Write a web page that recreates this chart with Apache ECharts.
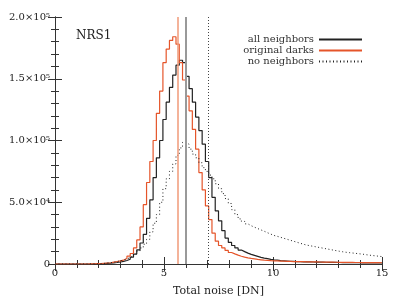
<!DOCTYPE html>
<html>
<head>
<meta charset="utf-8">
<script src="https://cdn.jsdelivr.net/npm/echarts@6/dist/echarts.min.js"></script>
<style>html,body{margin:0;padding:0;background:#fff}#c{width:399px;height:299px}</style>
</head>
<body>
<div id="c"></div>
<script>
// Histogram bins (noise in DN), counts in thousands of pixels
const binStart = 0;
const binWidth = 0.15;
const UNIT = 1000;

const allNeighbors = [
  0,0,0,0,0,0,0,0,0,0,0,0,0.1,0.2,0.3,0.45,
  0.6,0.9,1.2,1.6,2.1,2.8,3.8,5.5,8,11.5,17,24,37,52,70,86,100,117,131,143,153,161,165,163,
  152,142,131,119,108,97,83,70,54,43,35,27,21,17.5,15,13,11.3,10,8.8,7.8,7.0,6.2,5.4,4.8,4.3,3.8,
  3.4,3.1,2.8,2.6,2.4,2.2,2.1,2.0,1.9,1.8,
  1.7,1.65,1.6,1.55,1.5,1.45,1.4,1.35,1.3,1.25,
  1.2,1.17,1.14,1.1,1.07,1.04,1.0,0.97,0.94,0.91,0.88,0.85,0.82,0.8
];
const originalDarks = [
  0,0,0,0,0,0,0,0,0,0,0.1,0.2,0.3,0.4,0.6,0.8,
  1.0,1.5,2.0,2.5,3.2,4.5,6.3,8.5,13,19.5,30,48,66,83,100,122,140,163,174,181,184,178,163,149,
  136,124,109,93,74,60,47,36,25,18.5,15,13,11,9.3,8.2,7.2,6.3,5.6,5.0,4.5,4.1,3.7,3.4,3.1,2.9,2.7,2.6,
  2.5,2.4,2.3,2.2,2.1,2.0,1.95,1.9,1.85,1.8,1.75,1.7,1.65,1.6,1.55,1.5,1.47,1.44,1.41,1.38,
  1.35,1.32,1.29,1.26,1.23,1.2,1.17,1.14,1.11,1.08,1.06,1.04,1.02
];
const noNeighbors = [
  0,0,0,0,0,0,0,0,0,0,0.1,0.15,0.25,0.35,
  0.5,0.8,1.1,1.5,2.0,2.6,3.3,4.1,5.2,6.6,
  8.3,10.5,13,16,20,26,33,40,50,61,
  69,75,81,88,94,98.5,97,93,89,86,
  82,78,75,72,69,65,61,57,53,49,
  44,40,36.5,34.5,32.5,31,29.8,28.7,27.6,26.5,
  25.3,24.2,23.1,22.4,21.6,20.8,20.0,19.2,18.4,17.6,
  16.8,16.0,15.3,14.8,14.3,13.8,13.3,12.8,12.3,11.8,
  11.3,10.8,10.3,9.9,9.5,9.2,8.9,8.6,8.3,8.0,
  7.6,7.2,6.9,6.6,6.3,6.0
];
// Median markers (DN)
const medianAll = 5.98;
const medianOriginal = 5.61;
const medianNoNeighbors = 7.03;

const seriesNames = ['all neighbors', 'original darks', 'no neighbors'];
const xTicks = [0, 15, 5];          // min, max, interval
const yTicks = [0, 200000, 50000];  // min, max, interval

function toSteps(arr) {
  const pts = arr.map((v, i) => [binStart + i * binWidth, v * UNIT]);
  pts.push([binStart + arr.length * binWidth, arr[arr.length - 1] * UNIT]);
  return pts;
}

const FONT = 'DejaVu Serif';
const AX = '#333';
const supDigits = {'0':'⁰','1':'¹','2':'²','3':'³','4':'⁴','5':'⁵','6':'⁶','7':'⁷','8':'⁸','9':'⁹'};
function sciLabel(v) {
  if (v === 0) return '0';
  const e = Math.floor(Math.log10(v));
  const m = (v / Math.pow(10, e)).toFixed(1);
  return m + '×10' + String(e).split('').map(c => supDigits[c]).join('');
}

const xBase = {
  type: 'value', min: xTicks[0], max: xTicks[1], interval: xTicks[2],
  axisLine: {show: true, lineStyle: {color: AX, width: 1}},
  axisTick: {show: true, inside: true, length: 7, lineStyle: {color: AX}},
  minorTick: {show: true, splitNumber: 5, length: 4, lineStyle: {color: AX}},
  splitLine: {show: false}, minorSplitLine: {show: false}
};
const yBase = {
  type: 'value', min: yTicks[0], max: yTicks[1], interval: yTicks[2],
  axisLine: {show: true, lineStyle: {color: AX, width: 1}},
  axisTick: {show: true, inside: true, length: 7, lineStyle: {color: AX}},
  minorTick: {show: true, splitNumber: 5, length: 4, lineStyle: {color: AX}},
  splitLine: {show: false}, minorSplitLine: {show: false}
};

const chart = echarts.init(document.getElementById('c'), null, {renderer: 'canvas'});
chart.setOption({
  animation: false,
  backgroundColor: '#fff',
  title: {
    text: 'NRS1', left: 71, top: 25,
    textStyle: {fontFamily: FONT, fontSize: 12, fontWeight: 'normal', color: '#222'}
  },
  legend: {
    orient: 'vertical', align: 'right', right: 31, top: 29,
    itemWidth: 43, itemHeight: 11, itemGap: 0,
    itemStyle: {opacity: 0},
    data: seriesNames,
    textStyle: {fontFamily: FONT, fontSize: 10, color: '#333', lineHeight: 11}
  },
  grid: {left: 55, right: 17, top: 17, bottom: 35, containLabel: false, outerBoundsMode: 'none'},
  xAxis: [
    Object.assign({}, xBase, {
      position: 'bottom',
      name: 'Total noise [DN]', nameLocation: 'middle', nameGap: 22,
      nameTextStyle: {fontFamily: FONT, fontSize: 11, color: '#222'},
      axisLabel: {margin: 4, fontFamily: FONT, fontSize: 10, color: '#222'}
    }),
    Object.assign({}, xBase, {position: 'top', axisLabel: {show: false}})
  ],
  yAxis: [
    Object.assign({}, yBase, {
      position: 'left',
      name: 'No of pixels', nameLocation: 'middle', nameGap: 47,
      nameTextStyle: {fontFamily: FONT, fontSize: 11, color: '#222'},
      axisLabel: {margin: 5, fontFamily: FONT, fontSize: 10, color: '#222', formatter: sciLabel}
    }),
    Object.assign({}, yBase, {position: 'right', axisLabel: {show: false}})
  ],
  series: [
    {
      name: seriesNames[0], type: 'line', step: 'end', symbol: 'none',
      data: toSteps(allNeighbors),
      lineStyle: {color: '#222', width: 1.2}, itemStyle: {color: '#222'},
      markLine: {
        symbol: 'none', silent: true, label: {show: false},
        lineStyle: {color: '#999', width: 2, type: 'solid'},
        data: [{xAxis: medianAll}]
      }
    },
    {
      name: seriesNames[1], type: 'line', step: 'end', symbol: 'none',
      data: toSteps(originalDarks),
      lineStyle: {color: '#e5552a', width: 1.2}, itemStyle: {color: '#e5552a'},
      markLine: {
        symbol: 'none', silent: true, label: {show: false},
        lineStyle: {color: '#f09a78', width: 1.5, type: 'solid'},
        data: [{xAxis: medianOriginal}]
      }
    },
    {
      name: seriesNames[2], type: 'line', step: 'end', symbol: 'none',
      data: toSteps(noNeighbors),
      lineStyle: {color: '#222', width: 1, type: [1, 2.5]}, itemStyle: {color: '#222'},
      markLine: {
        symbol: 'none', silent: true, label: {show: false},
        lineStyle: {color: '#444', width: 1, type: [1, 2]},
        data: [{xAxis: medianNoNeighbors}]
      }
    }
  ]
});
</script>
</body>
</html>
